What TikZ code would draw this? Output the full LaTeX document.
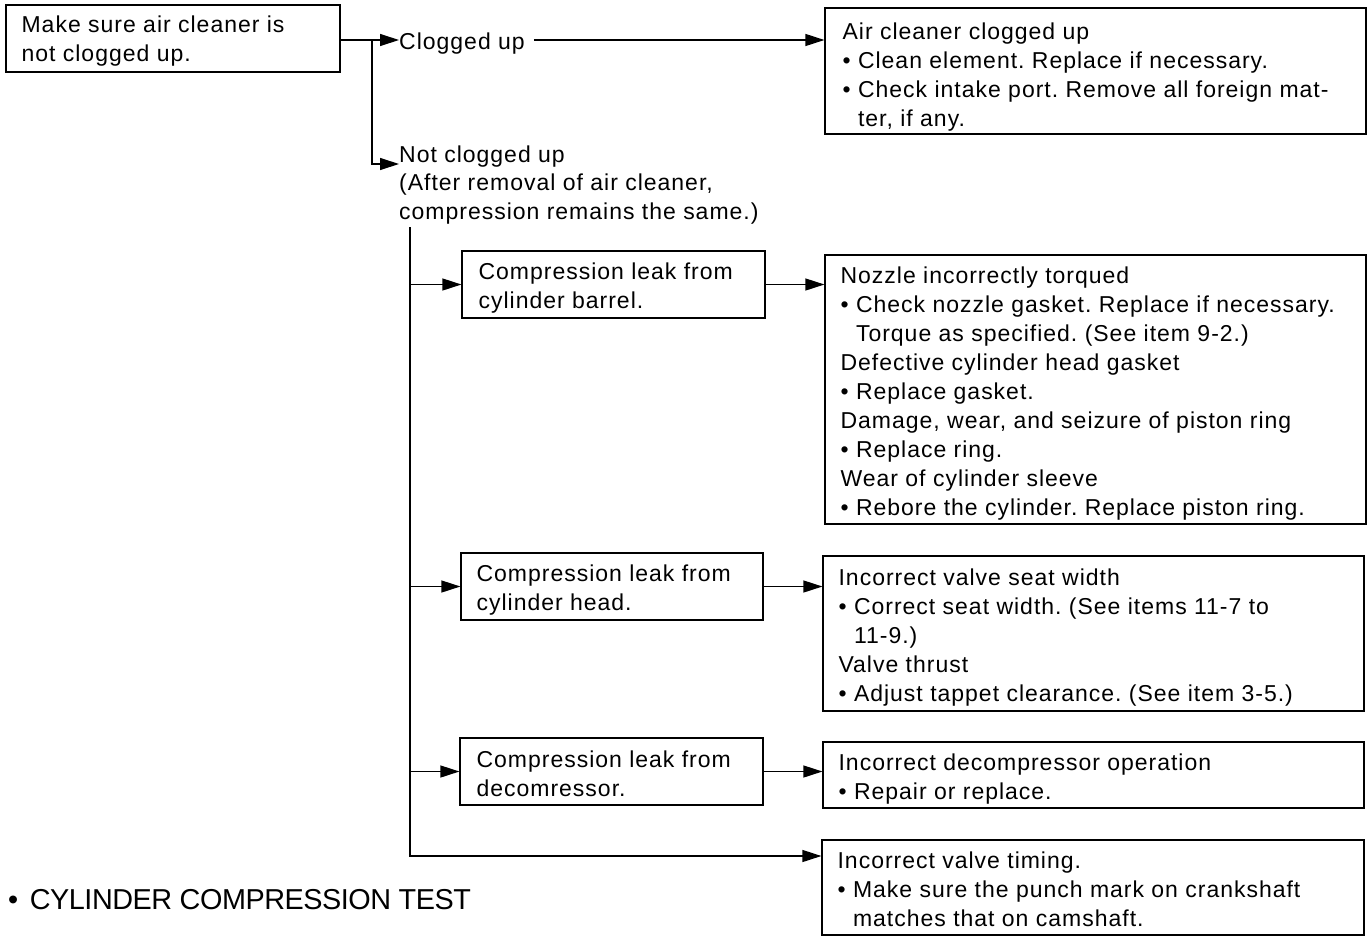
\documentclass[tikz,border=0pt]{standalone}
\usepackage{fontspec}
\setmainfont{Liberation Sans}[LetterSpace=4.3]
\newfontfamily\titlefont{Liberation Sans}[LetterSpace=-1.6]
\usetikzlibrary{arrows.meta}
\frenchspacing
\newcommand{\bodyfont}{\fontsize{23}{29}\selectfont}
\newcommand{\hang}{\hphantom{\textbullet\ }}
\tikzset{
  box/.style={draw, line width=1.2pt, rectangle, inner sep=0pt},
  txt/.style={font=\bodyfont, align=left, inner sep=0pt, anchor=west},
  lbl/.style={font=\bodyfont, align=left, inner sep=0pt},
  wire/.style={line width=1.2pt},
  arr/.style={line width=1.2pt, -{Triangle[length=19pt,width=12pt]}}
}
\begin{document}
\begin{tikzpicture}[x=1pt, y=-1pt]
\useasboundingbox (0,0) rectangle (1368,937);

% first check
\node[box, minimum width=334pt, minimum height=67pt] (A) at (173,38.5) {};
\node[txt] (At) at ([xshift=16pt,yshift=-3pt]A.west) {Make sure air cleaner is\\not clogged up.};

\node[lbl, anchor=base west] (clog) at (399,49) {Clogged up};
\node[lbl, anchor=base west] (nc1) at (399,162) {Not clogged up};
\node[lbl, anchor=north west] (nc2) at (399,174) {(After removal of air cleaner,\\compression remains the same.)};

% air cleaner result
\node[box, minimum width=541pt, minimum height=126pt] (B) at (1095.5,71) {};
\node[txt] (Bt) at ([xshift=18pt,yshift=-6pt]B.west) {Air cleaner clogged up\\
\textbullet\ Clean element. Replace if necessary.\\
\textbullet\ Check intake port. Remove all foreign mat-\\
\hang ter, if any.};

% leak sources
\node[box, minimum width=303pt, minimum height=67pt] (C1) at (613.5,284.5) {};
\node[txt] (C1t) at ([xshift=17pt,yshift=-4pt]C1.west) {Compression leak from\\cylinder barrel.};
\node[box, minimum width=302pt, minimum height=67pt] (C2) at (612,586.5) {};
\node[txt] (C2t) at ([xshift=16pt,yshift=-4pt]C2.west) {Compression leak from\\cylinder head.};
\node[box, minimum width=303pt, minimum height=67pt] (C3) at (611.5,771.5) {};
\node[txt] (C3t) at ([xshift=17pt,yshift=-2pt]C3.west) {Compression leak from\\decomressor.};

% causes and remedies
\node[box, minimum width=541pt, minimum height=269pt] (R1) at (1095.5,389.5) {};
\node[txt] (R1t) at ([xshift=16pt,yshift=-4pt]R1.west) {Nozzle incorrectly torqued\\
\textbullet\ Check nozzle gasket. Replace if necessary.\\
\hang Torque as specified. (See item 9-2.)\\
Defective cylinder head gasket\\
\textbullet\ Replace gasket.\\
Damage, wear, and seizure of piston ring\\
\textbullet\ Replace ring.\\
Wear of cylinder sleeve\\
\textbullet\ Rebore the cylinder. Replace piston ring.};

\node[box, minimum width=541pt, minimum height=155pt] (R2) at (1093.5,633.5) {};
\node[txt] (R2t) at ([xshift=16pt,yshift=-4pt]R2.west) {Incorrect valve seat width\\
\textbullet\ Correct seat width. (See items 11-7 to\\
\hang 11-9.)\\
Valve thrust\\
\textbullet\ Adjust tappet clearance. (See item 3-5.)};

\node[box, minimum width=541pt, minimum height=66pt] (R3) at (1093.5,775) {};
\node[txt] (R3t) at ([xshift=16pt,yshift=-4pt]R3.west) {Incorrect decompressor operation\\
\textbullet\ Repair or replace.};

\node[box, minimum width=542pt, minimum height=95pt] (R4) at (1093,887.5) {};
\node[txt] (R4t) at ([xshift=16pt,yshift=-2pt]R4.west) {Incorrect valve timing.\\
\textbullet\ Make sure the punch mark on crankshaft\\
\hang matches that on camshaft.};

% heading
\node[inner sep=0pt, anchor=base west, font=\titlefont\fontsize{28.8}{34}\selectfont] (title) at (8,909) {\textbullet\hspace{4pt} CYLINDER COMPRESSION TEST};

% connectors
\coordinate (j) at (372,40);
\coordinate (k) at (372,164);
\draw[wire] (A.east |- j) -- (j);
\draw[arr] (j) -- (clog.west |- j);
\draw[arr] (j) -- (k) -- (nc1.west |- k);
\path (clog.east) ++(9,0) coordinate (ce);
\draw[arr] (ce |- j) -- (B.west |- j);

\coordinate (t0) at (410,227);
\coordinate (t1) at (410,856);
\draw[arr] (t0) -- (t1) -- (R4.west |- t1);
\draw[arr] (t0 |- C1.west) -- (C1.west);
\draw[arr] (t0 |- C2.west) -- (C2.west);
\draw[arr] (t0 |- C3.west) -- (C3.west);
\draw[arr] (C1.east) -- (C1.east -| R1.west);
\draw[arr] (C2.east) -- (C2.east -| R2.west);
\draw[arr] (C3.east) -- (C3.east -| R3.west);
\end{tikzpicture}
\end{document}
